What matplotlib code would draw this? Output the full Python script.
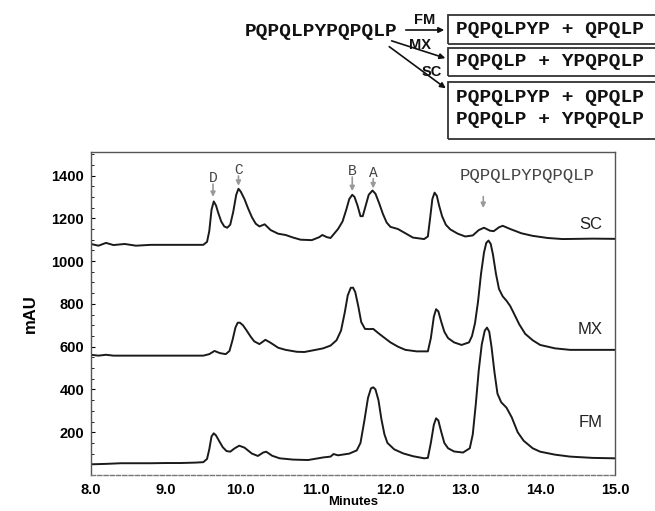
import matplotlib
matplotlib.use("Agg")
import matplotlib.pyplot as plt
from matplotlib.patches import Rectangle, FancyArrowPatch
from matplotlib.ticker import MultipleLocator

# ---- data ----
sc_t = [8.0, 8.1, 8.2, 8.3, 8.45, 8.6, 8.8, 9.0, 9.3, 9.5, 9.55, 9.58, 9.61, 9.64, 9.67, 9.7, 9.74, 9.78,
        9.82, 9.86, 9.9, 9.94, 9.97, 10.0, 10.05, 10.1, 10.15, 10.2, 10.25, 10.32, 10.4, 10.5, 10.6, 10.7,
        10.8, 10.95, 11.05, 11.09, 11.15, 11.2, 11.3, 11.36, 11.41, 11.45, 11.49, 11.52, 11.56, 11.6, 11.63,
        11.67, 11.71, 11.76, 11.8, 11.85, 11.9, 11.95, 12.0, 12.05, 12.1, 12.2, 12.3, 12.45, 12.5, 12.53,
        12.56, 12.59, 12.62, 12.65, 12.69, 12.74, 12.8, 12.9, 13.0, 13.1, 13.18, 13.25, 13.33, 13.38, 13.45,
        13.5, 13.6, 13.75, 13.9, 14.1, 14.3, 14.5, 14.7, 15.0]
sc_v = [1080, 1072, 1085, 1075, 1080, 1072, 1076, 1076, 1076, 1076, 1090, 1140, 1240, 1279, 1260, 1225, 1185, 1162,
        1156, 1170, 1230, 1310, 1338, 1325, 1290, 1245, 1205, 1175, 1162, 1172, 1145, 1128, 1122, 1110,
        1100, 1098, 1112, 1122, 1112, 1108, 1150, 1185, 1240, 1290, 1310, 1300, 1260, 1210, 1210,
        1260, 1310, 1330, 1315, 1270, 1220, 1180, 1160, 1155, 1150, 1130, 1110, 1103, 1115, 1200,
        1290, 1320, 1305, 1260, 1210, 1170, 1148, 1128, 1115, 1120, 1145, 1156, 1142, 1140, 1158,
        1165, 1150, 1130, 1118, 1108, 1103, 1104, 1105, 1104]

mx_t = [8.0, 8.1, 8.2, 8.3, 8.5, 9.0, 9.5, 9.58, 9.65, 9.72, 9.8, 9.85, 9.89, 9.93, 9.96, 9.99, 10.03, 10.08,
        10.13, 10.18, 10.25, 10.33, 10.4, 10.5, 10.6, 10.75, 10.85, 11.0, 11.1, 11.2, 11.28, 11.34, 11.39,
        11.43, 11.47, 11.5, 11.53, 11.57, 11.61, 11.66, 11.72, 11.77, 11.85, 12.0, 12.1, 12.2, 12.35, 12.5,
        12.54, 12.58, 12.61, 12.64, 12.68, 12.72, 12.77, 12.85, 12.95, 13.05, 13.09, 13.13, 13.17, 13.21,
        13.25, 13.28, 13.31, 13.34, 13.37, 13.41, 13.45, 13.5, 13.55, 13.6, 13.65, 13.72, 13.8, 13.9, 14.0,
        14.2, 14.4, 14.7, 15.0]
mx_v = [562, 558, 562, 558, 558, 558, 558, 565, 580, 570, 565, 580, 630, 690, 712, 712, 700, 675,
        648, 625, 612, 632, 618, 595, 585, 576, 575, 585, 592, 605, 630, 675, 760,
        840, 875, 876, 855, 790, 715, 683, 682, 683, 660, 620, 600, 585, 578, 578,
        640, 740, 775, 765, 715, 670, 640, 620, 608, 620, 650, 710, 810, 940,
        1040, 1085, 1096, 1080, 1030, 940, 870, 835, 815, 790, 755, 705, 660, 630, 608,
        592, 585, 585, 585]

fm_t = [8.0, 8.2, 8.4, 8.6, 8.8, 9.0, 9.2, 9.4, 9.5, 9.55, 9.58, 9.61, 9.64, 9.67, 9.71, 9.76, 9.81, 9.86,
        9.92, 9.98, 10.05, 10.15, 10.23, 10.3, 10.34, 10.42, 10.52, 10.7, 10.9, 11.0, 11.1, 11.2, 11.24,
        11.3, 11.45, 11.55, 11.6, 11.65, 11.7, 11.74, 11.77, 11.8, 11.84, 11.88, 11.92, 11.96, 12.05, 12.17,
        12.3, 12.45, 12.5, 12.54, 12.58, 12.61, 12.64, 12.68, 12.72, 12.77, 12.85, 12.97, 13.06, 13.1, 13.14,
        13.18, 13.22, 13.26, 13.29, 13.32, 13.35, 13.39, 13.43, 13.48, 13.55, 13.62, 13.7, 13.78, 13.9, 14.0,
        14.2, 14.4, 14.7, 15.0]
fm_v = [50, 52, 55, 55, 55, 56, 56, 58, 60, 75, 120, 180, 195, 185, 160, 130, 112, 109,
        125, 137, 128, 100, 89, 105, 109, 90, 78, 72, 70, 76, 82, 86, 98,
        92, 100, 115, 150, 250, 360, 405, 410, 400, 350, 260, 190, 150, 120, 101,
        88, 78, 80, 150, 235, 265, 255, 200, 150, 125, 110, 105, 125, 190, 330,
        490, 610, 675, 689, 670, 600, 480, 380, 340, 315, 270, 200, 160, 125, 109,
        95, 86, 80, 78]

trace_names = ["SC", "MX", "FM"]
trace_label_y = [1170, 680, 245]

peak_letters = ["D", "C", "B", "A"]
peak_times = [9.63, 9.97, 11.49, 11.77]
peak_text_y = [1390, 1424, 1420, 1412]
peak_arrow = [(1360, 1300), (1398, 1352), (1393, 1327), (1385, 1340)]

xticks = [8.0, 9.0, 10.0, 11.0, 12.0, 13.0, 14.0, 15.0]
yticks = [200, 400, 600, 800, 1000, 1200, 1400]

W, H = 655, 511
fig = plt.figure(figsize=(W / 100, H / 100), dpi=100)
ax = fig.add_axes([91 / W, 1 - 475 / H, (615 - 91) / W, (475 - 152) / H])

lc = "#1a1a1a"
ax.plot(sc_t, sc_v, color=lc, lw=1.4)
ax.plot(mx_t, mx_v, color=lc, lw=1.4)
ax.plot(fm_t, fm_v, color=lc, lw=1.4)

ax.set_xlim(8.0, 15.0)
ax.set_ylim(0, 1510)
ax.set_xticks(xticks)
ax.set_xticklabels([f"{t:.1f}" for t in xticks])
ax.set_yticks(yticks)
ax.set_yticklabels([str(v) for v in yticks])
ax.yaxis.set_minor_locator(MultipleLocator(50))
ax.tick_params(axis="both", which="major", direction="in", length=3, labelsize=10.5, width=0.8)
ax.tick_params(axis="y", which="minor", direction="in", length=2, width=0.6)
ax.tick_params(axis="x", which="major", length=0, pad=6)
for lab in ax.get_xticklabels() + ax.get_yticklabels():
    lab.set_fontweight("bold")
    lab.set_family("Liberation Sans")
ax.tick_params(axis="y", pad=5)

for s in ax.spines.values():
    s.set_color("#555555")
    s.set_linewidth(1.0)
ax.spines["bottom"].set_linestyle((0, (3, 1.5)))
ax.spines["bottom"].set_color("#777777")

ax.set_ylabel("mAU", fontsize=12, fontweight="bold", family="Liberation Sans", labelpad=10)
ax.set_xlabel("Minutes", fontsize=9.5, fontweight="bold", family="Liberation Sans", labelpad=-1)

for name, y in zip(trace_names, trace_label_y):
    ax.text(14.83, y, name, ha="right", va="center", fontsize=12, family="Liberation Sans", color="#222222")

gray = "#999999"
for letter, t, ty, (a0, a1) in zip(peak_letters, peak_times, peak_text_y, peak_arrow):
    ax.text(t, ty, letter, ha="center", va="center", fontsize=10.5, family="Liberation Mono", color="#444444")
    ax.annotate("", xy=(t, a1), xytext=(t, a0),
                arrowprops=dict(arrowstyle="-|>", color=gray, lw=1.2, mutation_scale=7,
                                shrinkA=0, shrinkB=0))

ax.text(13.83, 1400, "PQPQLPYPQPQLP", ha="center", va="center", fontsize=12.5,
        family="Liberation Mono", color="#444444")
ax.annotate("", xy=(13.24, 1248), xytext=(13.24, 1302),
            arrowprops=dict(arrowstyle="-|>", color=gray, lw=1.2, mutation_scale=7, shrinkA=0, shrinkB=0))

# ---- reaction scheme (figure pixel coordinates) ----
def P(x, y):
    return (x / W, 1 - y / H)

fig.text(*P(245, 32), "PQPQLPYPQPQLP", ha="left", va="center", fontsize=14,
         family="Liberation Mono", fontweight="bold", color="#111111")

boxes = [(448, 15, 44), (448, 48, 76), (448, 82, 139)]
for x0, y0, y1 in boxes:
    r = Rectangle(P(x0, y1), (665 - x0) / W, (y1 - y0) / H, transform=fig.transFigure,
                  fill=False, edgecolor="#333333", lw=1.3, clip_on=False)
    fig.add_artist(r)

box_lines = [("PQPQLPYP + QPQLP", 30), ("PQPQLP + YPQPQLP", 62),
             ("PQPQLPYP + QPQLP", 98), ("PQPQLP + YPQPQLP", 120)]
for s, y in box_lines:
    fig.text(*P(456, y), s, ha="left", va="center", fontsize=14, family="Liberation Mono",
             fontweight="bold", color="#111111")

arrows = [((403, 30), (447, 30)), ((389, 40), (448, 59)), ((387, 45), (448, 90))]
for (a, b) in arrows:
    fa = FancyArrowPatch(P(*a), P(*b), transform=fig.transFigure, arrowstyle="-|>",
                         mutation_scale=8, lw=1.2, color="#111111")
    fig.add_artist(fa)

for s, (x, y) in zip(["FM", "MX", "SC"], [(425, 20), (420, 45), (432, 72)]):
    fig.text(*P(x, y), s, ha="center", va="center", fontsize=10.5, fontweight="bold",
             family="Liberation Sans", color="#111111")

fig.savefig("out.png", dpi=100)
